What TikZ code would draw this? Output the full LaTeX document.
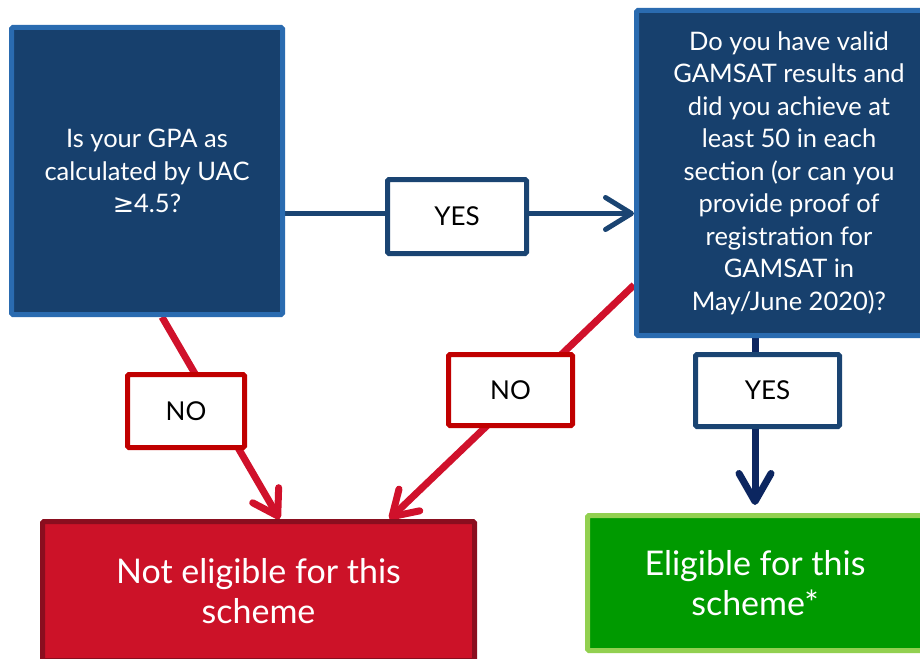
\documentclass[tikz,border=0pt]{standalone}
\usepackage{fontspec}
\setmainfont{Lato}
\newfontfamily\symfont{DejaVu Sans}
\usetikzlibrary{arrows.meta}
\pgfdeclarelayer{background}
\pgfsetlayers{background,main}

\definecolor{qfill}{HTML}{17406D}
\definecolor{qborder}{HTML}{2A6BB0}
\definecolor{navyline}{HTML}{1A4472}
\definecolor{darknavy}{HTML}{0C2660}
\definecolor{noline}{HTML}{D0112B}
\definecolor{noborder}{HTML}{C00000}
\definecolor{redfill}{HTML}{CC1228}
\definecolor{redborder}{HTML}{8A0E1F}
\definecolor{greenfill}{HTML}{009A00}
\definecolor{greenborder}{HTML}{92D050}

\begin{document}
\begin{tikzpicture}[x=1pt,y=-1pt]

	\tikzset{
		question/.style={draw=qborder, fill=qfill, line width=5pt, text=white, align=center,
			inner sep=0pt, rounded corners=1.5pt, font=\fontsize{25.5}{32.5}\selectfont},
		outcome/.style={line width=5pt, text=white, align=center, inner sep=0pt,
			rounded corners=1.5pt, font=\fontsize{34}{40.5}\selectfont},
		yeslabel/.style={draw=navyline, fill=white, line width=5pt, inner sep=0pt,
			rounded corners=1.5pt, font=\fontsize{26}{30}\selectfont},
		nolabel/.style={yeslabel, draw=noborder},
		redline/.style={noline, line width=7pt, -{Straight Barb[length=24pt,width=30pt,round]}},
		navyarrow/.style={navyline, line width=5pt, -{Straight Barb[length=26pt,width=32pt,round]}},
		darkarrow/.style={darknavy, line width=7pt, -{Straight Barb[length=28pt,width=32pt,round]}}
	}

	\useasboundingbox (0,0) rectangle (920,658);
	\clip (0,0) rectangle (920,658);

	% questions
	\node[question, minimum width=271pt, minimum height=287pt] (gpa) at (147,171)
		{Is your GPA as\\calculated by UAC\\{\symfont ≥}4.5?};
	\node[question, minimum width=305pt, minimum height=325pt] (gamsat) at (789,173)
		{Do you have valid\\GAMSAT results and\\did you achieve at\\least 50 in each\\section (or can you\\provide proof of\\registration for\\GAMSAT in\\May/June 2020)?};

	% outcomes
	\node[outcome, draw=redborder, fill=redfill, minimum width=432pt, minimum height=139pt] (noelig) at (258.5,591)
		{Not eligible for this\\scheme};
	\node[outcome, draw=greenborder, fill=greenfill, minimum width=335pt, minimum height=135pt] (elig) at (755,583)
		{Eligible for this\\scheme*};

	% answers
	\node[yeslabel, minimum width=139pt, minimum height=74pt] (yes1) at (457,216.5) {YES};
	\node[yeslabel, minimum width=144pt, minimum height=72pt] (yes2) at (767.5,390.5) {YES};
	\node[nolabel, minimum width=117pt, minimum height=73pt] (no1) at (186,411) {NO};
	\node[nolabel, minimum width=124pt, minimum height=71pt] (no2) at (510.5,390) {NO};

	\begin{pgfonlayer}{background}
		\draw[navyarrow] ([yshift=3pt]gpa.east |- yes1.west) -- ([yshift=3pt]gamsat.west |- yes1.east);
		\draw[redline] ([xshift=15pt]gpa.south) -- ([xshift=21pt]noelig.north);
		\draw[redline] ([yshift=-112pt]gamsat.west) -- ([xshift=131pt]noelig.north);
		\draw[darkarrow, shorten >=8pt] (elig.north |- gamsat.south) -- (elig.north);
	\end{pgfonlayer}

\end{tikzpicture}
\end{document}
